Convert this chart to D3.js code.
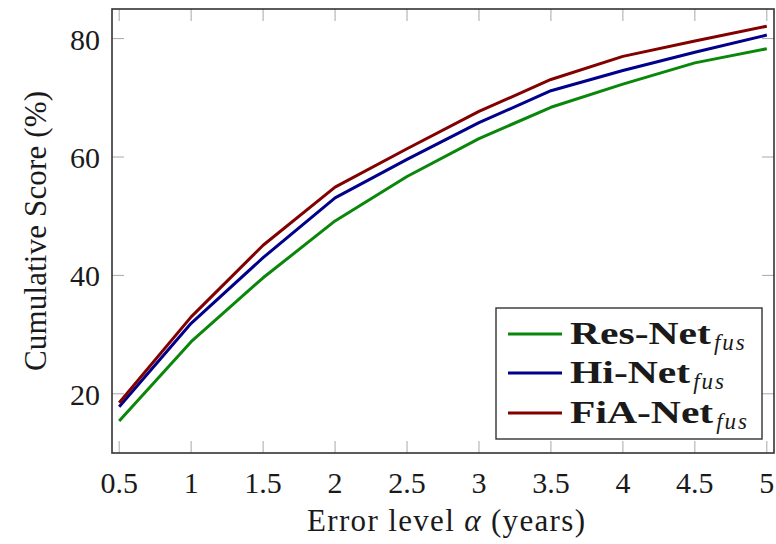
<!DOCTYPE html>
<html>
<head>
<meta charset="utf-8">
<script src="https://cdn.jsdelivr.net/npm/d3@7"></script>
<style>
  body { margin: 0; background: #fff; }
  svg { display: block; }
</style>
</head>
<body>
<svg id="chart" width="776" height="544"></svg>
<script>
const alphas = [0.5, 1, 1.5, 2, 2.5, 3, 3.5, 4, 4.5, 5];
const resNet = [15.4, 28.8, 39.6, 49.2, 56.7, 63.1, 68.4, 72.3, 75.9, 78.3];
const hiNet  = [17.8, 31.9, 43.0, 53.1, 59.6, 65.8, 71.2, 74.6, 77.7, 80.6];
const fiaNet = [18.5, 33.0, 45.1, 54.9, 61.4, 67.7, 73.1, 77.0, 79.6, 82.1];
const xTicks = [0.5, 1, 1.5, 2, 2.5, 3, 3.5, 4, 4.5, 5];
const xTickLabels = ["0.5", "1", "1.5", "2", "2.5", "3", "3.5", "4", "4.5", "5"];
const yTicks = [20, 40, 60, 80];
const seriesNames = ["Res-Net", "Hi-Net", "FiA-Net"];
const seriesSub = "fus";
const seriesColors = ["#0a870a", "#00008b", "#820000"];
const seriesData = [resNet, hiNet, fiaNet];

const FONT = '"Liberation Serif"';
const svg = d3.select("#chart");
const L = 112, R = 774, T = 9, B = 453;
const x = d3.scaleLinear().domain([0.45, 5.05]).range([L, R]);
const y = d3.scaleLinear().domain([10, 85]).range([B, T]);

function txt(sel) { return sel.append("text").style("font-family", FONT).attr("fill", "#1a1a1a"); }

// inward ticks (bottom/top and left/right)
const tickLen = 12;
const tickColor = "#a8a8a8";
const gT = svg.append("g");
xTicks.forEach(v => {
  gT.append("line").attr("x1", x(v)).attr("x2", x(v)).attr("y1", B).attr("y2", B - tickLen)
    .attr("stroke", tickColor).attr("stroke-width", 1);
  gT.append("line").attr("x1", x(v)).attr("x2", x(v)).attr("y1", T).attr("y2", T + tickLen)
    .attr("stroke", tickColor).attr("stroke-width", 1);
});
yTicks.forEach(v => {
  gT.append("line").attr("x1", L).attr("x2", L + tickLen).attr("y1", y(v)).attr("y2", y(v))
    .attr("stroke", tickColor).attr("stroke-width", 1);
  gT.append("line").attr("x1", R).attr("x2", R - tickLen).attr("y1", y(v)).attr("y2", y(v))
    .attr("stroke", tickColor).attr("stroke-width", 1);
});

// lines
const line = d3.line().x((d, i) => x(alphas[i])).y(d => y(d));
seriesData.forEach((s, k) => {
  svg.append("path").datum(s).attr("d", line).attr("fill", "none")
    .attr("stroke", seriesColors[k]).attr("stroke-width", 3).attr("stroke-linejoin", "round");
});

// frame
svg.append("rect").attr("x", L).attr("y", T).attr("width", R - L).attr("height", B - T)
  .attr("fill", "none").attr("stroke", "#333").attr("stroke-width", 1.6);

// tick labels
xTicks.forEach((v, i) => {
  txt(svg).attr("x", x(v)).attr("y", 493).attr("text-anchor", "middle")
    .attr("font-size", 30).text(xTickLabels[i]);
});
yTicks.forEach(v => {
  txt(svg).attr("x", 100).attr("y", y(v) + 11).attr("text-anchor", "end")
    .attr("font-size", 30).text(v);
});

// axis labels
const xl = txt(svg).attr("x", 446).attr("y", 531).attr("text-anchor", "middle").attr("font-size", 31)
  .attr("textLength", 278).attr("lengthAdjust", "spacing");
xl.append("tspan").text("Error level ");
xl.append("tspan").attr("font-style", "italic").text("α");
xl.append("tspan").text(" (years)");

txt(svg).attr("transform", `translate(46,${(T + B) / 2}) rotate(-90)`)
  .attr("text-anchor", "middle").attr("font-size", 31)
  .attr("textLength", 280).attr("lengthAdjust", "spacing")
  .text("Cumulative Score (%)");

// legend
const lg = svg.append("g");
lg.append("rect").attr("x", 496).attr("y", 308).attr("width", 266).attr("height", 131)
  .attr("fill", "#fff").attr("stroke", "#333").attr("stroke-width", 1.4);
const rowY = [334, 373, 413];
seriesNames.forEach((n, k) => {
  lg.append("line").attr("x1", 508).attr("x2", 562).attr("y1", rowY[k]).attr("y2", rowY[k])
    .attr("stroke", seriesColors[k]).attr("stroke-width", 3);
  const nameT = txt(lg).attr("x", 570).attr("y", rowY[k] + 10).attr("font-size", 32)
    .attr("font-weight", "bold").text(n);
  const w = nameT.node().getComputedTextLength() * 1.3;
  nameT.attr("textLength", w).attr("lengthAdjust", "spacingAndGlyphs");
  txt(lg).attr("x", 570 + w + 3).attr("y", rowY[k] + 16).attr("font-size", 23)
    .attr("font-style", "italic").attr("letter-spacing", 2).text(seriesSub);
});
</script>
</body>
</html>
